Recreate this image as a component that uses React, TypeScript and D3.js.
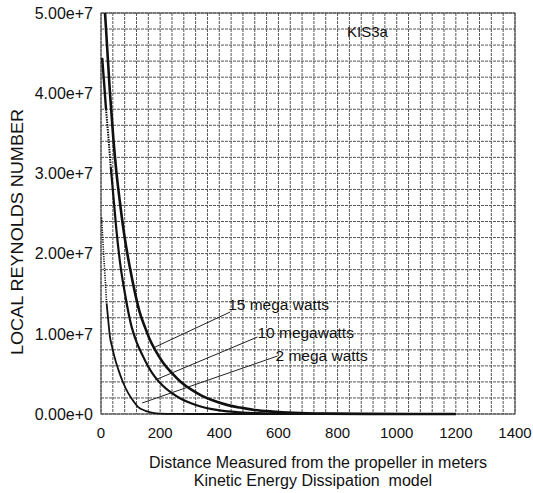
import React from "react";
import * as d3 from "d3";

const W = 533;
const H = 493;

// x: distance (m), y: local Reynolds number
const xTicks = [0, 200, 400, 600, 800, 1000, 1200, 1400];
const yTicks = [0, 1e7, 2e7, 3e7, 4e7, 5e7];
const yTickLabels = ["0.00e+0", "1.00e+7", "2.00e+7", "3.00e+7", "4.00e+7", "5.00e+7"];

const distance15 = [12, 20, 30, 42, 52, 64, 80, 98, 115, 130, 149, 165, 183, 210, 240, 270, 307, 340, 375, 420, 470, 520, 580, 650, 750, 900, 1200];
const reynolds15 = [5.1e7, 4.62e7, 4.02e7, 3.42e7, 3.02e7, 2.64e7, 2.2e7, 1.82e7, 1.51e7, 1.28e7, 1.08e7, 9.3e6, 8.0e6, 6.4e6, 5.1e6, 4.0e6, 3.0e6, 2.3e6, 1.75e6, 1.2e6, 8e5, 5e5, 3e5, 1.5e5, 5e4, 1e4, 0];

const distance10 = [4, 10, 17, 25, 33, 42, 52, 64, 81, 104, 120, 138, 160, 183, 210, 240, 270, 307, 340, 375, 420, 470, 530, 600, 700, 850, 1200];
const reynolds10 = [4.44e7, 4.15e7, 3.8e7, 3.45e7, 3.08e7, 2.71e7, 2.3e7, 1.9e7, 1.5e7, 1.08e7, 9.0e6, 7.5e6, 5.9e6, 4.6e6, 3.5e6, 2.6e6, 1.9e6, 1.3e6, 9e5, 6e5, 3.5e5, 2e5, 1e5, 5e4, 1.5e4, 3e3, 0];

const distance2 = [2, 5, 8, 14, 19, 25, 30, 38, 45, 59, 75, 92, 108, 125, 150, 175, 200, 250, 300, 400, 1200];
const reynolds2 = [2.45e7, 2.25e7, 2.05e7, 1.7e7, 1.38e7, 1.15e7, 9.7e6, 8.3e6, 7.2e6, 5.5e6, 3.9e6, 2.6e6, 1.7e6, 9e5, 4e5, 1.5e5, 5e4, 1e4, 2e3, 0, 0];

const seriesNames = ["15 mega watts", "10 megawatts", "2 mega watts"];
// label text anchor (m, Re), leader start (m, Re), leader end on curve (m, Re)
const labelX = [430, 529, 590];
const labelY = [1.297e7, 9.48e6, 6.61e6];
const leaderFromX = [437, 529, 597];
const leaderFromY = [1.272e7, 9.6e6, 7.23e6];
const leaderToX = [183, 183, 139];
const leaderToY = [8.35e6, 4.24e6, 1.37e6];

const FONT = "'Liberation Sans', Arial, Helvetica, sans-serif";

export default function App() {
  const left = 101, right = 515, top = 13, bottom = 414;
  const x = d3.scaleLinear().domain([0, 1400]).range([left, right]);
  const y = d3.scaleLinear().domain([0, 5e7]).range([bottom, top]);

  const line = d3
    .line<[number, number]>()
    .x((d) => x(d[0]))
    .y((d) => y(d[1]))
    .curve(d3.curveMonotoneX);

  const zip = (xs: number[], ys: number[]) => xs.map((v, i) => [v, ys[i]] as [number, number]);
  const s15 = zip(distance15, reynolds15);
  const s10 = zip(distance10, reynolds10);
  const s2 = zip(distance2, reynolds2);

  const xGrid = d3.range(0, 1400 + 1, 40);
  const yGrid = d3.range(0, 5e7 + 1, 2e6);

  // split series into dotted/solid portions (scanned look)
  const s2Dotted = s2.filter((d) => d[0] <= 19);
  const s2Solid = s2.filter((d) => d[0] >= 19);
  const s10a = s10.filter((d) => d[0] <= 17);
  const s10b = s10.filter((d) => d[0] >= 17 && d[0] <= 33);
  const s10c = s10.filter((d) => d[0] >= 33);

  return (
    <svg
      width={W}
      height={H}
      style={{ position: "absolute", left: 0, top: 0, background: "#fff" }}
      fontFamily={FONT}
    >
      <defs>
        <clipPath id="plotClip">
          <rect x={left} y={top} width={right - left} height={bottom - top + 2} />
        </clipPath>
      </defs>
      <rect x={0} y={0} width={W} height={H} fill="#fff" />

      {/* grid */}
      <g stroke="#555" strokeWidth={1} strokeDasharray="3,1">
        {xGrid.map((v) => (
          <line key={"gx" + v} x1={x(v)} x2={x(v)} y1={top} y2={bottom} />
        ))}
        {yGrid.map((v) => (
          <line key={"gy" + v} x1={left} x2={right} y1={y(v)} y2={y(v)} />
        ))}
      </g>
      <rect x={left} y={top} width={right - left} height={bottom - top} fill="none" stroke="#444" strokeWidth={1} />

      {/* curves */}
      <g clipPath="url(#plotClip)" fill="none" stroke="#111" strokeLinejoin="round">
        <path d={line(s15) || ""} strokeWidth={2.6} />
        <path d={line(s10a) || ""} strokeWidth={2.4} />
        <path d={line(s10b) || ""} strokeWidth={2} strokeDasharray="1.5,1" />
        <path d={line(s10c) || ""} strokeWidth={2.2} />
        <path d={line(s2Dotted) || ""} strokeWidth={1.6} strokeDasharray="1.2,1.2" />
        <path d={line(s2Solid) || ""} strokeWidth={1.8} />
      </g>

      {/* leaders and labels */}
      <g stroke="#222" strokeWidth={1}>
        {seriesNames.map((n, i) => (
          <line key={"ld" + i} x1={x(leaderFromX[i])} y1={y(leaderFromY[i])} x2={x(leaderToX[i])} y2={y(leaderToY[i])} />
        ))}
      </g>
      <g fontSize={15.5} fill="#111">
        {seriesNames.map((n, i) => (
          <text key={"lb" + i} x={x(labelX[i])} y={y(labelY[i])}>
            {n}
          </text>
        ))}
      </g>

      <text x={347} y={37} fontSize={15} fill="#111">KIS3a</text>

      {/* y axis labels */}
      <g fontSize={16} fill="#111" textAnchor="end">
        {yTicks.map((v, i) => (
          <text key={"yt" + v} x={93} y={y(v)} dy="0.36em">
            {yTickLabels[i]}
          </text>
        ))}
      </g>
      {/* x axis labels */}
      <g fontSize={15} fill="#111" textAnchor="middle">
        {xTicks.map((v) => (
          <text key={"xt" + v} x={x(v)} y={438}>
            {v}
          </text>
        ))}
      </g>

      <text
        transform={`translate(23,232) rotate(-90)`}
        textAnchor="middle"
        fontSize={17}
        fill="#111"
        textLength={246}
        lengthAdjust="spacingAndGlyphs"
      >
        LOCAL REYNOLDS NUMBER
      </text>
      <text x={318} y={468} textAnchor="middle" fontSize={16} fill="#111">
        Distance Measured from the propeller in meters
      </text>
      <text x={313} y={486} textAnchor="middle" fontSize={16} fill="#111" style={{ whiteSpace: "pre" }}>
        Kinetic Energy Dissipation  model
      </text>
    </svg>
  );
}
